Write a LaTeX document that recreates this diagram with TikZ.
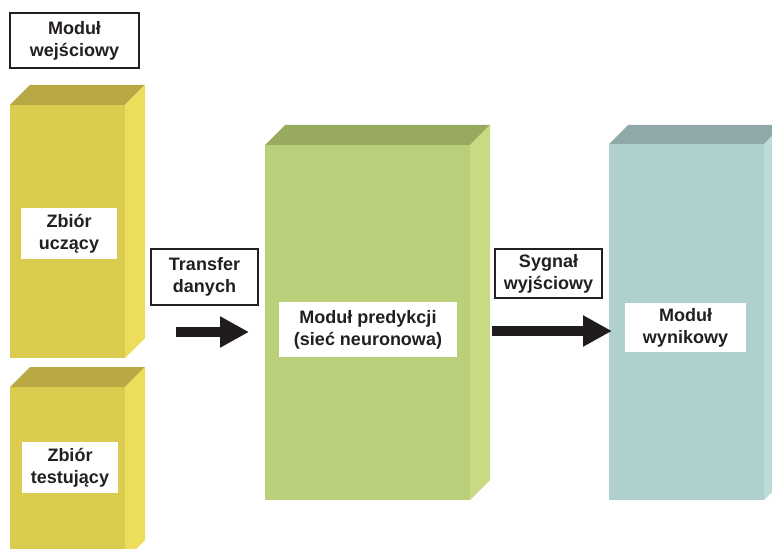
\documentclass[tikz,border=0pt]{standalone}
\usepackage{fontspec}
\setmainfont{Liberation Sans}
\usetikzlibrary{arrows.meta}
\definecolor{yelF}{HTML}{DBCB4F}
\definecolor{yelS}{HTML}{ECDE5A}
\definecolor{yelT}{HTML}{B7A843}
\definecolor{grnF}{HTML}{B9CF7A}
\definecolor{grnS}{HTML}{C8DB82}
\definecolor{grnT}{HTML}{98AA5E}
\definecolor{tealF}{HTML}{AFD0CD}
\definecolor{tealS}{HTML}{BCDCD9}
\definecolor{tealT}{HTML}{8FAAA8}
\definecolor{ink}{HTML}{231F20}
\newcommand\cuboidbox[8]{%
  \fill[#6] (#1,#2) rectangle (#3,#4);
  \fill[#8] (#1,#2) -- (#1+#5,#2-#5) -- (#3+#5,#2-#5) -- (#3,#2) -- cycle;
  \fill[#7] (#3,#2) -- (#3+#5,#2-#5) -- (#3+#5,#4-#5) -- (#3,#4) -- cycle;}
\begin{document}
\begin{tikzpicture}[x=0.75pt,y=-0.75pt,
  txt/.style={font=\fontsize{13.5}{16.6}\selectfont\bfseries, text=ink, align=center, inner sep=0pt},
  label/.style={txt, fill=white},
  framed/.style={txt, fill=white, draw=ink, line width=0.8pt},
  bigarrow/.style={draw=ink!90!black, line width=7.5pt, -{Triangle[length=21.75pt,width=22pt]}}]
\useasboundingbox (0,0) rectangle (772,549);
\clip (0,0) rectangle (772,549);
% boxes
\cuboidbox{10}{105}{125}{358}{20}{yelF}{yelS}{yelT}
\cuboidbox{10}{387}{125}{560}{20}{yelF}{yelS}{yelT}
\cuboidbox{265}{145}{470}{500}{20}{grnF}{grnS}{grnT}
\cuboidbox{609}{144}{764}{500}{19}{tealF}{tealS}{tealT}
% labels
\node[framed, minimum width=96.75pt, minimum height=41.25pt] (wej) at (74.5,40.5) {Moduł\\wejściowy};
\node[label, minimum width=72pt, minimum height=38.25pt] (ucz) at (69,233.5) {Zbiór\\uczący};
\node[label, minimum width=72pt, minimum height=38.25pt] (test) at (70,467.5) {Zbiór\\testujący};
\node[framed, minimum width=80.25pt, minimum height=42pt] (trans) at (204.5,277) {Transfer\\danych};
\node[label, minimum width=133.5pt, minimum height=41.25pt] (pred) at (368,329.5) {Moduł predykcji\\(sieć neuronowa)};
\node[framed, minimum width=80.25pt, minimum height=36.75pt] (syg) at (548.5,273.5) {Sygnał\\wyjściowy};
\node[label, minimum width=90.75pt, minimum height=36.75pt] (wyn) at (685.5,327.5) {Moduł\\wynikowy};
% arrows
\coordinate (a1s) at (176,332);
\coordinate (a1e) at (249,332);
\coordinate (a2s) at (492,331);
\coordinate (a2e) at (612,331);
\draw[bigarrow] (a1s) -- (a1e);
\draw[bigarrow] (a2s) -- (a2e);
\end{tikzpicture}
\end{document}
